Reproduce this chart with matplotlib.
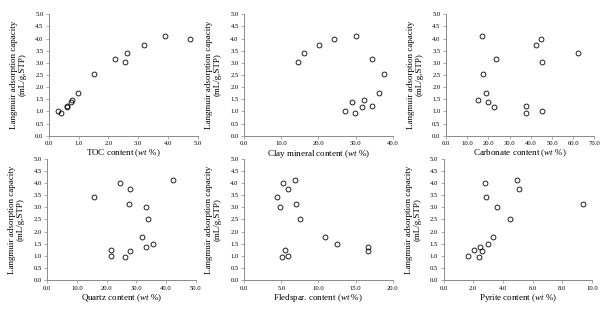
"""
Langmuir adsorption capacity vs. mineral composition, six scatter panels.
"""
import matplotlib
matplotlib.use("Agg")
import matplotlib.pyplot as plt
from matplotlib.ticker import FormatStrFormatter, MultipleLocator

# Langmuir adsorption capacity (mL/g, STP), same sample order in every panel
langmuir = [4.11, 3.99, 3.75, 3.42, 3.15, 3.03, 2.54, 1.77, 1.48, 1.37, 1.23, 1.19, 1.01, 0.94]

toc = [3.92, 4.76, 3.21, 2.62, 2.22, 2.57, 1.52, 0.99, 0.76, 0.74, 0.62, 0.60, 0.31, 0.40]
clay = [30.1, 24.1, 20.1, 16.2, 34.3, 14.6, 37.7, 36.2, 32.4, 29.0, 34.3, 31.8, 27.2, 29.8]
carbonate = [17.1, 44.9, 42.3, 62.2, 23.4, 45.2, 17.4, 19.0, 15.3, 19.9, 37.9, 22.4, 45.2, 37.9]
quartz = [42.3, 24.4, 27.8, 15.7, 27.4, 33.2, 34.0, 31.8, 35.5, 33.2, 21.4, 27.9, 21.3, 26.1]
feldspar = [6.88, 5.21, 5.93, 4.40, 6.97, 4.85, 7.55, 10.9, 12.5, 16.7, 5.53, 16.7, 5.93, 5.08]
pyrite = [4.97, 2.76, 5.06, 2.85, 9.37, 3.57, 4.47, 3.35, 2.97, 2.45, 2.04, 2.56, 1.64, 2.36]

xlabels = [
    r"TOC content ($\mathit{wt}$ %)",
    r"Clay mineral content ($\mathit{wt}$ %)",
    r"Carbonate content ($\mathit{wt}$ %)",
    r"Quartz content ($\mathit{wt}$ %)",
    r"Fledspar. content ($\mathit{wt}$ %)",
    r"Pyrite content ($\mathit{wt}$ %)",
]
xmax = [5, 40, 70, 50, 20, 10]
xstep = [1, 10, 10, 10, 5, 2]

plt.rcParams["font.family"] = ["Liberation Serif", "DejaVu Serif"]
plt.rcParams["mathtext.fontset"] = "custom"
plt.rcParams["mathtext.rm"] = "Liberation Serif"
plt.rcParams["mathtext.it"] = "Liberation Serif:italic"

fig = plt.figure(figsize=(6.06, 3.12), dpi=100)

# panel boxes in figure fractions: left, bottom, width, height
boxes = [
    (0.081, 0.565, 0.245, 0.389),
    (0.403, 0.565, 0.245, 0.389),
    (0.736, 0.565, 0.245, 0.389),
    (0.078, 0.102, 0.245, 0.389),
    (0.403, 0.102, 0.245, 0.389),
    (0.732, 0.102, 0.245, 0.389),
]
xdata = [toc, clay, carbonate, quartz, feldspar, pyrite]

for box, xs, lab, xm, st in zip(boxes, xdata, xlabels, xmax, xstep):
    ax = fig.add_axes(box)
    ax.plot(xs, langmuir, "o", markersize=3.5, markerfacecolor="none",
            markeredgecolor="black", markeredgewidth=0.6)
    ax.set_xlim(0, xm)
    ax.set_ylim(0, 5)
    ax.xaxis.set_major_locator(MultipleLocator(st))
    ax.yaxis.set_major_locator(MultipleLocator(0.5))
    ax.xaxis.set_major_formatter(FormatStrFormatter("%.1f"))
    ax.yaxis.set_major_formatter(FormatStrFormatter("%.1f"))
    for side in ("top", "right"):
        ax.spines[side].set_visible(False)
    for side in ("left", "bottom"):
        ax.spines[side].set_color("#8a8a8a")
        ax.spines[side].set_linewidth(0.7)
    ax.tick_params(labelsize=4.8, length=2, width=0.5, color="#8a8a8a", pad=2)
    ax.set_xlabel(lab, fontsize=6.5, labelpad=1)
    ax.set_ylabel("Langmuir adsorption capacity\n(mL/g,STP)", fontsize=6.5,
                  labelpad=6, linespacing=1.1)

fig.savefig("out.png", dpi=100)
